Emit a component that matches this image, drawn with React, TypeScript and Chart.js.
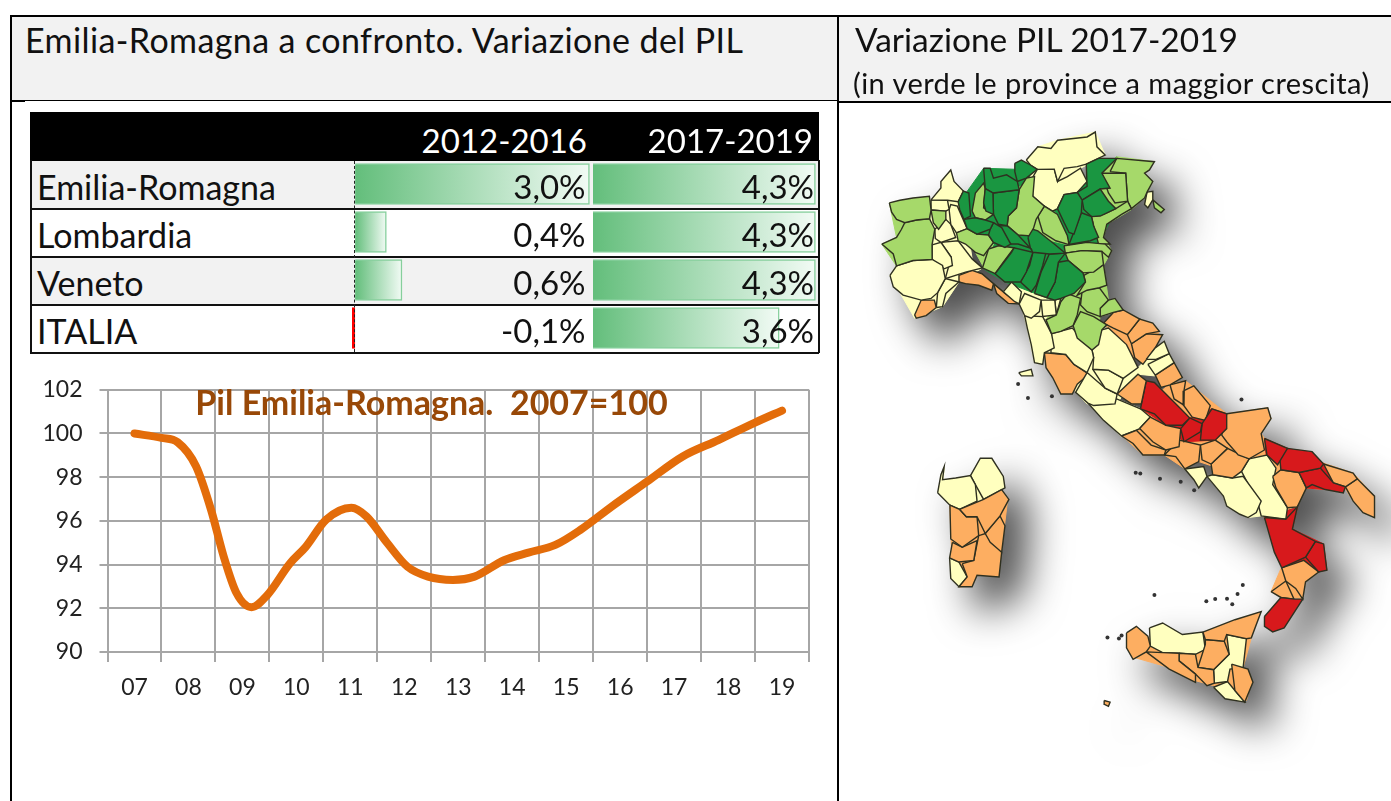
import React, { useEffect, useRef } from "react";
import { Chart, registerables } from "chart.js";

Chart.register(...registerables);

const FONT = "Lato, 'Open Sans', sans-serif";

const yearLabels = ["07", "08", "09", "10", "11", "12", "13", "14", "15", "16", "17", "18", "19"];
const curvePosition = [0, 0.5, 0.8, 1.14, 1.42, 1.65, 1.89, 2.17, 2.46, 2.88, 3.17, 3.55, 4.02, 4.3, 4.68, 5.06, 5.44, 5.9, 6.3, 6.85, 7.3, 7.8, 8.27, 8.84, 9.5, 10.16, 10.82, 11.5, 12];
const curveValues = [100, 99.8, 99.6, 98.5, 96.5, 94.4, 92.7, 92.05, 92.6, 94.05, 94.8, 96.05, 96.6, 96.2, 95, 93.9, 93.45, 93.3, 93.45, 94.2, 94.55, 94.9, 95.6, 96.65, 97.8, 98.95, 99.7, 100.5, 101.05];

const regions = ["Emilia-Romagna", "Lombardia", "Veneto", "ITALIA"];
const growth1216 = [3.0, 0.4, 0.6, -0.1];
const growth1719 = [4.3, 4.3, 4.3, 3.6];
const growthLabels1216 = ["3,0%", "0,4%", "0,6%", "-0,1%"];
const growthLabels1719 = ["4,3%", "4,3%", "4,3%", "3,6%"];
const periods = ["2012-2016", "2017-2019"];

type Poly = number[][];
const COLORS: Record<string, string> = { dg: "#1a9641", lg: "#a6d96a", y: "#ffffbf", o: "#fdae61", r: "#d7191c" };

const northDarkGreen: Poly[] = [
  [[290,265],[305,230],[320,240],[325,310],[305,320],[292,290]],
  [[370,225],[390,240],[395,300],[372,295],[365,270]],
  [[365,165],[385,165],[395,195],[435,185],[465,205],[475,230],[395,240],[370,225]],
  [[460,150],[480,140],[505,155],[525,170],[495,195],[470,205],[460,175]],
  [[395,240],[475,235],[465,285],[440,310],[435,340],[410,335],[395,310]],
  [[305,320],[340,320],[370,322],[395,325],[385,350],[345,365],[315,345]],
  [[395,335],[420,345],[450,395],[430,405],[395,385],[380,365],[385,350]],
  [[400,340],[435,342],[470,370],[505,410],[470,395],[445,395]],
  [[500,375],[515,350],[530,355],[555,375],[580,395],[615,420],[570,425],[520,420],[510,405]],
  [[400,490],[450,420],[460,405],[510,420],[495,480],[475,510],[430,510]],
  [[480,510],[505,460],[515,420],[555,420],[545,460],[525,520],[510,540]],
  [[520,545],[540,480],[560,425],[610,425],[590,450],[580,510],[555,555]],
  [[560,560],[585,510],[595,450],[620,445],[665,480],[675,510],[640,545],[600,555],[575,565]],
  [[590,290],[610,245],[650,245],[665,265],[660,300],[640,365],[625,360],[610,330]],
  [[625,395],[655,320],[665,300],[690,310],[700,340],[715,375],[690,385]],
  [[665,265],[720,228],[745,265],[765,285],[720,310],[695,310],[670,290]],
  [[650,235],[680,220],[675,155],[715,135],[770,130],[725,180],[750,225],[720,228],[665,255]],
];
const northLightGreen: Poly[] = [
  [[78,270],[110,262],[150,255],[200,250],[205,290],[200,318],[160,322],[125,330],[100,320],[85,298]],
  [[55,395],[100,375],[115,350],[125,330],[160,322],[200,318],[218,345],[208,395],[205,440],[150,445],[100,462],[90,425]],
  [[205,295],[250,295],[250,320],[228,350],[212,330]],
  [[330,295],[340,240],[365,210],[370,230],[365,285],[395,305],[370,322],[340,310]],
  [[470,225],[495,195],[520,190],[515,250],[550,280],[525,320],[510,370],[470,365],[440,335],[440,310],[465,285]],
  [[280,360],[315,350],[345,365],[380,370],[395,395],[365,430],[340,420],[310,395],[290,385]],
  [[365,465],[380,410],[410,400],[455,408],[425,450],[400,480]],
  [[615,425],[665,415],[725,420],[730,455],[700,480],[670,485],[625,445]],
  [[670,490],[730,460],[740,520],[715,530],[680,535],[650,550],[675,510]],
  [[610,400],[680,390],[735,395],[755,415],[745,435],[725,415],[665,415],[615,420]],
  [[530,310],[550,285],[590,305],[620,370],[625,398],[585,385],[545,360]],
  [[695,315],[730,305],[770,290],[810,265],[815,285],[785,305],[740,335],[730,375],[750,395],[715,395],[700,340]],
  [[725,180],[795,180],[800,265],[765,270],[745,240]],
  [[750,175],[770,140],[885,145],[870,170],[855,180],[880,205],[865,235],[855,255],[815,290],[800,265],[800,180]],
  [[880,262],[915,290],[905,300],[885,285]],
  [[600,570],[620,545],[660,560],[650,610],[640,640],[600,660],[570,665],[555,625],[590,610]],
  [[665,535],[720,525],[745,565],[720,590],[720,615],[680,600],[660,580]],
  [[745,565],[765,560],[790,595],[760,605],[720,615],[720,590]],
  [[635,645],[660,600],[700,615],[740,640],[725,660],[715,700],[695,715],[650,680]],
];
const northYellow: Poly[] = [
  [[80,490],[100,460],[150,445],[205,445],[240,460],[245,500],[225,540],[205,560],[170,565],[120,550],[90,525]],
  [[205,260],[235,225],[235,205],[265,170],[275,205],[302,238],[285,268],[255,262]],
  [[205,262],[255,262],[260,290],[250,295],[205,290]],
  [[260,290],[265,275],[285,280],[315,350],[285,362],[265,335]],
  [[215,355],[250,320],[265,335],[280,375],[235,385],[218,378]],
  [[208,400],[235,395],[265,430],[270,460],[245,470],[215,440]],
  [[235,390],[285,385],[330,440],[358,470],[310,480],[255,500],[268,440]],
  [[220,585],[225,545],[245,500],[290,510],[250,545],[240,585]],
  [[860,240],[880,235],[880,260],[865,285],[855,275]],
  [[495,140],[530,100],[570,105],[590,80],[680,70],[705,55],[710,100],[735,125],[680,150],[650,160],[610,165],[590,205],[580,165],[530,165],[510,155]],
  [[510,200],[530,170],[580,170],[590,205],[620,190],[660,165],[680,205],[650,235],[610,245],[590,285],[575,295],[550,275],[515,250]],
  [[425,540],[450,510],[480,540],[475,575],[460,570]],
  [[480,580],[490,545],[540,565],[535,600],[510,620],[490,610]],
  [[540,565],[585,565],[580,610],[545,610]],
  [[585,565],[600,565],[595,610],[580,610]],
  [[490,615],[545,620],[570,665],[580,710],[550,725],[545,760],[520,755],[510,700],[498,650]],
  [[575,670],[635,650],[695,715],[700,740],[680,780],[640,760],[615,730],[570,725]],
  [[695,720],[725,650],[745,650],[800,700],[835,770],[790,800],[745,775],[700,775],[700,740]],
  [[860,745],[890,710],[915,690],[930,725],[890,745]],
  [[865,760],[930,730],[945,755],[890,790]],
  [[695,775],[745,780],[790,805],[770,845],[735,830]],
  [[680,790],[735,835],[770,855],[765,880],[700,885],[680,875],[645,845]],
  [[472,785],[510,775],[515,795],[480,795]],
];
const northOrange: Poly[] = [
  [[155,610],[180,565],[215,565],[222,590],[190,612],[160,620]],
  [[290,510],[290,490],[330,475],[360,485],[395,515],[390,535],[350,520],[310,515]],
  [[395,515],[425,540],[465,575],[440,575],[405,545]],
  [[550,725],[615,730],[640,760],[685,790],[650,820],[635,850],[600,850],[575,800],[555,770]],
  [[730,635],[760,600],[790,595],[840,625],[800,670],[760,650]],
  [[805,670],[840,620],[880,635],[900,660],[860,665],[815,695]],
  [[815,700],[860,670],[910,670],[885,710],[850,760],[825,740]],
  [[775,850],[835,790],[860,810],[845,880],[815,880]],
  [[885,795],[945,755],[970,800],[935,825],[905,830]],
];
const southRed: Poly[] = [
  [[665,115],[680,30],[705,35],[740,70],[785,115],[810,145],[790,165],[740,165],[705,130]],
  [[785,175],[815,140],[850,155],[845,185],[795,215]],
  [[850,165],[880,115],[925,130],[925,175],[890,210],[845,210]],
  [[1040,205],[1110,235],[1080,285],[1045,255]],
  [[1085,250],[1110,235],[1185,245],[1220,280],[1210,295],[1145,305],[1095,300]],
  [[1145,310],[1210,295],[1250,345],[1285,355],[1280,370],[1225,360],[1185,345],[1165,355]],
  [[1040,445],[1110,450],[1140,415],[1125,480],[1195,515],[1165,565],[1095,595],[1070,550]],
  [[1165,565],[1195,520],[1220,525],[1230,605],[1205,610]],
  [[1040,745],[1090,690],[1130,695],[1158,695],[1100,780],[1065,792],[1040,775]],
];
const southOrange: Poly[] = [
  [[750,40],[800,30],[795,60],[790,100],[765,85]],
  [[795,60],[825,45],[875,105],[860,150],[820,140],[795,105]],
  [[925,130],[1050,112],[1060,145],[1030,190],[1040,240],[990,265],[960,255],[925,215],[910,195]],
  [[660,175],[695,140],[740,165],[785,175],[780,230],[740,240],[700,215]],
  [[605,195],[650,180],[695,225],[740,240],[735,255],[670,255],[640,220]],
  [[735,255],[780,210],[845,225],[840,275],[795,295],[770,260]],
  [[845,225],[890,210],[925,235],[880,280],[850,270]],
  [[875,285],[930,235],[990,270],[970,300],[940,325],[880,315]],
  [[1065,320],[1085,300],[1145,310],[1170,355],[1140,410],[1110,410],[1075,355]],
  [[1220,285],[1310,310],[1320,325],[1285,350],[1250,335]],
  [[1290,350],[1325,330],[1375,380],[1375,445],[1340,430],[1310,395]],
  [[1090,600],[1160,575],[1205,610],[1165,640],[1155,690],[1135,660],[1105,635]],
  [[1060,670],[1105,640],[1130,690],[1090,685]],
  [[855,795],[950,755],[1030,730],[1000,810],[985,810],[930,800],[915,820],[860,815]],
  [[620,795],[650,775],[685,805],[690,835],[680,855],[640,875],[620,840]],
  [[680,850],[730,855],[780,860],[780,880],[830,920],[830,945],[750,905]],
  [[780,860],[830,860],[835,900],[885,910],[890,950],[865,955],[830,920],[780,880]],
  [[840,900],[860,830],[860,815],[920,820],[935,860],[885,905]],
  [[940,890],[990,905],[1005,945],[985,1005],[950,970]],
  [[552,1000],[570,1005],[565,1018],[553,1012]],
  [[110,420],[185,390],[240,360],[262,390],[235,440],[190,490],[165,440],[130,440]],
  [[80,410],[105,420],[135,445],[165,445],[170,495],[120,535],[85,510]],
  [[190,490],[235,440],[250,470],[240,550],[205,520]],
  [[90,520],[120,535],[165,515],[155,575],[110,580],[85,565]],
  [[120,585],[155,575],[170,505],[190,500],[240,550],[232,625],[165,620],[150,655],[110,660],[135,625]],
];
const southYellow: Poly[] = [
  [[505,100],[590,85],[660,115],[690,140],[660,175],[650,180],[605,200],[550,150]],
  [[800,300],[855,290],[865,320],[840,355],[825,330]],
  [[865,320],[885,315],[945,325],[975,320],[1030,395],[1015,430],[990,445],[965,435],[925,410],[915,380]],
  [[970,310],[1000,265],[1050,255],[1075,295],[1065,345],[1110,420],[1100,450],[1030,440],[1020,400]],
  [[690,780],[730,765],[790,800],[850,790],[860,845],[830,860],[780,850],[730,855],[695,835]],
  [[920,800],[985,815],[975,900],[935,905],[925,945],[885,945],[885,905],[930,860]],
  [[885,960],[930,940],[950,970],[975,1005],[920,995]],
  [[45,370],[55,315],[65,290],[60,330],[100,325],[145,320],[160,345],[165,395],[120,420],[85,405]],
  [[145,315],[175,265],[210,265],[245,320],[250,355],[185,390],[160,345]],
  [[78,570],[110,580],[135,625],[110,650],[85,630]],
];
const islandDots: number[][] = [
  [290,40],[320,82],[393,77],[970,87],[648,309],[662,311],[722,327],[785,336],[826,362],[705,680],[974,650],[958,677],[863,699],[890,692],[926,691],[942,708],[562,809],[597,812],[605,803],
];

// Broad land areas painted under the provinces, so that the map has no holes.
const northLand: [string, Poly][] = [
  ["y", [[495,140],[530,100],[590,80],[705,55],[735,125],[660,165],[680,205],[610,245],[575,295],[515,250],[510,200]]],
  ["lg", [[78,270],[200,250],[205,440],[100,462],[55,395],[100,375]]],
  ["lg", [[280,360],[395,395],[365,465],[340,420]]],
  ["lg", [[470,225],[520,190],[515,250],[590,305],[625,398],[510,370],[440,335]]],
  ["o", [[730,635],[790,595],[900,660],[860,745],[825,740],[745,650]]],
  ["y", [[80,490],[100,460],[205,440],[205,260],[300,240],[330,440],[358,470],[290,510],[240,585],[155,620]]],
  ["lg", [[725,180],[770,130],[885,145],[855,180],[880,205],[855,255],[815,290],[740,335],[730,375],[755,415],[730,460],[745,565],[790,595],[720,615],[700,715],[640,640],[555,625],[600,560],[675,510],[620,420],[715,395]]],
  ["dg", [[290,270],[365,165],[525,170],[515,250],[590,290],[650,235],[770,130],[750,225],[770,285],[715,395],[620,420],[675,510],[575,565],[430,510],[365,470],[395,395],[315,350]]],
  ["y", [[425,540],[450,510],[600,565],[555,625],[640,645],[745,650],[835,770],[860,745],[945,755],[885,795],[835,790],[770,880],[680,880],[645,845],[615,730],[550,725],[520,755],[498,650],[480,580]]],
];
const southLand: [string, Poly][] = [
  ["r", [[665,115],[680,30],[810,145],[880,115],[925,130],[925,175],[890,210],[795,215],[740,165]]],
  ["r", [[1040,205],[1110,235],[1220,280],[1285,355],[1225,360],[1165,355],[1145,310],[1045,255]]],
  ["r", [[1040,445],[1140,415],[1125,480],[1220,525],[1230,605],[1095,595]]],
  ["y", [[505,100],[590,85],[665,115],[690,140],[605,200]]],
  ["y", [[970,310],[1000,265],[1050,255],[1075,295],[1065,345],[1110,420],[1100,450],[1030,440],[990,445],[925,410],[915,380],[865,320]]],
  ["o", [[1090,600],[1205,610],[1165,640],[1155,690],[1090,685],[1060,670]]],
  ["o", [[605,195],[665,115],[750,40],[800,30],[925,130],[1050,112],[1060,145],[1030,190],[1040,205],[1110,235],[1220,280],[1310,310],[1375,380],[1375,445],[1310,395],[1285,355],[1225,360],[1165,355],[1140,410],[1040,445],[1030,395],[975,320],[840,275],[795,295],[735,255],[670,255]]],
  ["o", [[625,800],[650,780],[690,812],[730,772],[790,806],[850,796],[1025,735],[1000,810],[975,900],[1000,945],[985,1000],[920,990],[885,955],[830,940],[750,900],[645,870]]],
  ["y", [[50,370],[65,295],[62,335],[145,325],[175,270],[210,270],[248,355],[185,390],[120,418],[88,403]]],
  ["o", [[82,410],[185,390],[258,392],[230,620],[165,618],[150,650],[112,656],[88,565]]],
];

type Pt = { x: number; y: number };
const northPoint = ([x, y]: number[]): Pt => ({ x: 860 + x / 3, y: 110 + y / 3 });
const southPoint = ([x, y]: number[]): Pt => ({ x: 920 + x / 3, y: 370 + y / 3 });

// Neighbouring provinces were read separately: corners that nearly meet share one point.
function snapCorners(polys: Pt[][], radius: number) {
  const all = polys.flat();
  const seen = new Set<Pt>();
  for (const p of all) {
    if (seen.has(p)) continue;
    const group = all.filter((q) => !seen.has(q) && Math.hypot(q.x - p.x, q.y - p.y) <= radius);
    const cx = group.reduce((s, q) => s + q.x, 0) / group.length;
    const cy = group.reduce((s, q) => s + q.y, 0) / group.length;
    group.forEach((q) => { seen.add(q); q.x = cx; q.y = cy; });
  }
}

function provinceDatasets() {
  const groups: { key: string; polys: Poly[]; map: (p: number[]) => Pt }[] = [
    { key: "dg", polys: northDarkGreen, map: northPoint },
    { key: "lg", polys: northLightGreen, map: northPoint },
    { key: "y", polys: northYellow, map: northPoint },
    { key: "o", polys: northOrange, map: northPoint },
    { key: "r", polys: southRed, map: southPoint },
    { key: "o", polys: southOrange, map: southPoint },
    { key: "y", polys: southYellow, map: southPoint },
  ];
  const shapes = groups.flatMap((g) => g.polys.map((poly) => ({ key: g.key, pts: poly.map(g.map) })));
  snapCorners(shapes.map((s) => s.pts), 3.5);
  return shapes.map((s) => ({
    type: "scatter" as const,
    showLine: true,
    data: [...s.pts, s.pts[0]],
    borderColor: "#2f3020",
    borderWidth: 1.4,
    backgroundColor: COLORS[s.key],
    fill: "shape",
    pointRadius: 0,
    tension: 0,
    order: 1,
  }));
}

function landDatasets() {
  const land = [
    ...northLand.map(([k, p]) => ({ k, pts: p.map(northPoint) })),
    ...southLand.map(([k, p]) => ({ k, pts: p.map(southPoint) })),
  ];
  return land.map((l, i) => ({
    type: "scatter" as const,
    showLine: true,
    data: [...l.pts, l.pts[0]],
    borderColor: COLORS[l.k],
    borderWidth: 1,
    backgroundColor: COLORS[l.k],
    fill: "shape",
    pointRadius: 0,
    tension: 0,
    order: 2 + i,
  }));
}

function growthChart(canvas: HTMLCanvasElement, values: number[], min: number, max: number) {
  const gradient = (ctx: any) => {
    const chart = ctx.chart;
    if (!chart.chartArea) return "#63be7b";
    const scale = chart.scales.x;
    const v = ctx.raw as number;
    const g = chart.ctx.createLinearGradient(scale.getPixelForValue(0), 0, scale.getPixelForValue(v), 0);
    g.addColorStop(0, v < 0 ? "#ff0000" : "#63be7b");
    g.addColorStop(1, v < 0 ? "#ff0000" : "#f2fbf5");
    return g;
  };
  return new Chart(canvas, {
    type: "bar",
    data: {
      labels: regions,
      datasets: [{
        data: values,
        backgroundColor: gradient,
        borderColor: (c: any) => ((c.raw as number) < 0 ? "#ff0000" : "#86cf9c"),
        borderWidth: 1.5,
        barThickness: 41,
      }],
    },
    options: {
      indexAxis: "y",
      animation: false,
      responsive: false,
      maintainAspectRatio: false,
      layout: { padding: 0 },
      plugins: { legend: { display: false }, tooltip: { enabled: false } },
      scales: {
        x: { display: false, min, max },
        y: { display: false },
      },
    },
  } as any);
}

const label = (left: number, top: number, width: number, text: string, size: number, extra: React.CSSProperties = {}) => (
  <div style={{ position: "absolute", left, top, width, fontFamily: FONT, fontSize: size, lineHeight: `${size}px`, whiteSpace: "nowrap", color: "#111", zIndex: 3, ...extra }}>{text}</div>
);
const box = (left: number, top: number, width: number, height: number, background: string, z = 1) => (
  <div style={{ position: "absolute", left, top, width, height, background, zIndex: z }} />
);

export default function App() {
  const lineRef = useRef<HTMLCanvasElement>(null);
  const bar1Ref = useRef<HTMLCanvasElement>(null);
  const bar2Ref = useRef<HTMLCanvasElement>(null);
  const mapRef = useRef<HTMLCanvasElement>(null);

  useEffect(() => {
    const tickFont = { family: FONT, size: 23 };
    const line = new Chart(lineRef.current!, {
      type: "line",
      data: {
        labels: yearLabels,
        datasets: [{
          xAxisID: "xValue",
          data: curvePosition.map((x, i) => ({ x, y: curveValues[i] })),
          borderColor: "#e36c0a",
          borderWidth: 8,
          borderCapStyle: "round",
          pointRadius: 0,
          cubicInterpolationMode: "monotone",
          clip: false,
        }],
      },
      options: {
        animation: false,
        responsive: false,
        maintainAspectRatio: false,
        layout: { padding: { top: 0, right: 11, bottom: 0, left: 0 } },
        plugins: { legend: { display: false }, tooltip: { enabled: false } },
        scales: {
          xValue: { type: "linear", display: false, min: -0.5, max: 12.5 },
          x: {
            type: "category",
            offset: true,
            position: "bottom",
            grid: { offset: true, color: "#a6a6a6", lineWidth: 2, tickLength: 10 },
            border: { color: "#a6a6a6", width: 2 },
            ticks: { font: tickFont, color: "#222", padding: 12, maxRotation: 0, autoSkip: false },
            afterFit: (s: any) => { s.height = 58; },
          },
          y: {
            min: 90,
            max: 102,
            grid: { color: "#a6a6a6", lineWidth: 2, tickLength: 8 },
            border: { color: "#a6a6a6", width: 2 },
            ticks: { stepSize: 2, font: tickFont, color: "#222", padding: 17 },
            afterFit: (s: any) => { s.width = 77.5; },
          },
        },
      },
    } as any);

    const bar1 = growthChart(bar1Ref.current!, growth1216, -0.04, 3.02);
    const bar2 = growthChart(bar2Ref.current!, growth1719, 0, 4.35);

    const map = new Chart(mapRef.current!, {
      type: "scatter",
      data: {
        datasets: [
          {
            type: "scatter",
            data: islandDots.map(southPoint),
            pointRadius: 2,
            backgroundColor: "#333",
            borderWidth: 0,
            showLine: false,
            order: 0,
          },
          ...provinceDatasets(),
          ...landDatasets(),
        ],
      },
      options: {
        animation: false,
        responsive: false,
        maintainAspectRatio: false,
        layout: { padding: 0 },
        plugins: { legend: { display: false }, tooltip: { enabled: false } },
        scales: {
          x: { display: false, min: 840, max: 1391 },
          y: { display: false, min: 102, max: 801, reverse: true },
        },
      },
    } as any);

    return () => { line.destroy(); bar1.destroy(); bar2.destroy(); map.destroy(); };
  }, []);

  const rowTops = [161, 209, 257, 305];
  return (
    <div style={{ position: "fixed", left: 0, top: 0, width: 1391, height: 801, overflow: "hidden", background: "#fff" }}>
      {box(10, 16, 1381, 85, "#f2f2f2", 0)}
      {box(10, 15, 1381, 2, "#000", 2)}
      {box(10, 100, 827, 1, "#000", 2)}
      {box(12, 101, 13, 1, "#000", 2)}
      {box(837, 101, 554, 2, "#000", 2)}
      {box(10, 15, 2, 786, "#000", 2)}
      {box(837, 15, 2, 786, "#000", 2)}
      {label(25, 23, 740, "Emilia-Romagna a confronto. Variazione del PIL", 34, { letterSpacing: 0.4 })}
      {label(855, 23, 500, "Variazione PIL 2017-2019", 33.5)}
      {label(853, 68, 530, "(in verde le province a maggior crescita)", 29, { letterSpacing: 0.45 })}

      {box(30, 112, 789, 49, "#000", 1)}
      {label(387, 124, 200, periods[0], 33, { color: "#fff", textAlign: "right" })}
      {label(613, 124, 200, periods[1], 33, { color: "#fff", textAlign: "right" })}
      {rowTops.map((t, i) => (
        <React.Fragment key={regions[i]}>
          {box(30, t, 789, 48, i % 2 === 0 ? "#f2f2f2" : "#fff", 0)}
          {box(30, t + 47, 789, 2, "#111", 2)}
          {label(37, t + 9, 300, regions[i], 34)}
          {label(385.5, t + 9, 200, growthLabels1216[i], 33, { textAlign: "right" })}
          {label(614, t + 9, 200, growthLabels1719[i], 33, { textAlign: "right" })}
        </React.Fragment>
      ))}
      {box(30, 160, 1.5, 193, "#111", 2)}
      {box(818, 160, 1.5, 193, "#111", 2)}
      <div style={{ position: "absolute", left: 354, top: 161, height: 191, borderLeft: "1.5px dashed #222", zIndex: 2 }} />

      <canvas ref={bar1Ref} width={239} height={192} style={{ position: "absolute", left: 352, top: 160, zIndex: 1 }} />
      <canvas ref={bar2Ref} width={225} height={192} style={{ position: "absolute", left: 593, top: 160, zIndex: 1 }} />

      <canvas ref={lineRef} width={790} height={351} style={{ position: "absolute", left: 30, top: 359, zIndex: 1 }} />
      {label(131.5, 385, 600, "Pil Emilia-Romagna.  2007=100", 34, { color: "#984807", fontWeight: 700, textAlign: "center", whiteSpace: "pre" })}

      <canvas ref={mapRef} width={551} height={699} style={{ position: "absolute", left: 840, top: 102, zIndex: 1, filter: "drop-shadow(22px 24px 20px rgba(0,0,0,0.7))" }} />
    </div>
  );
}
